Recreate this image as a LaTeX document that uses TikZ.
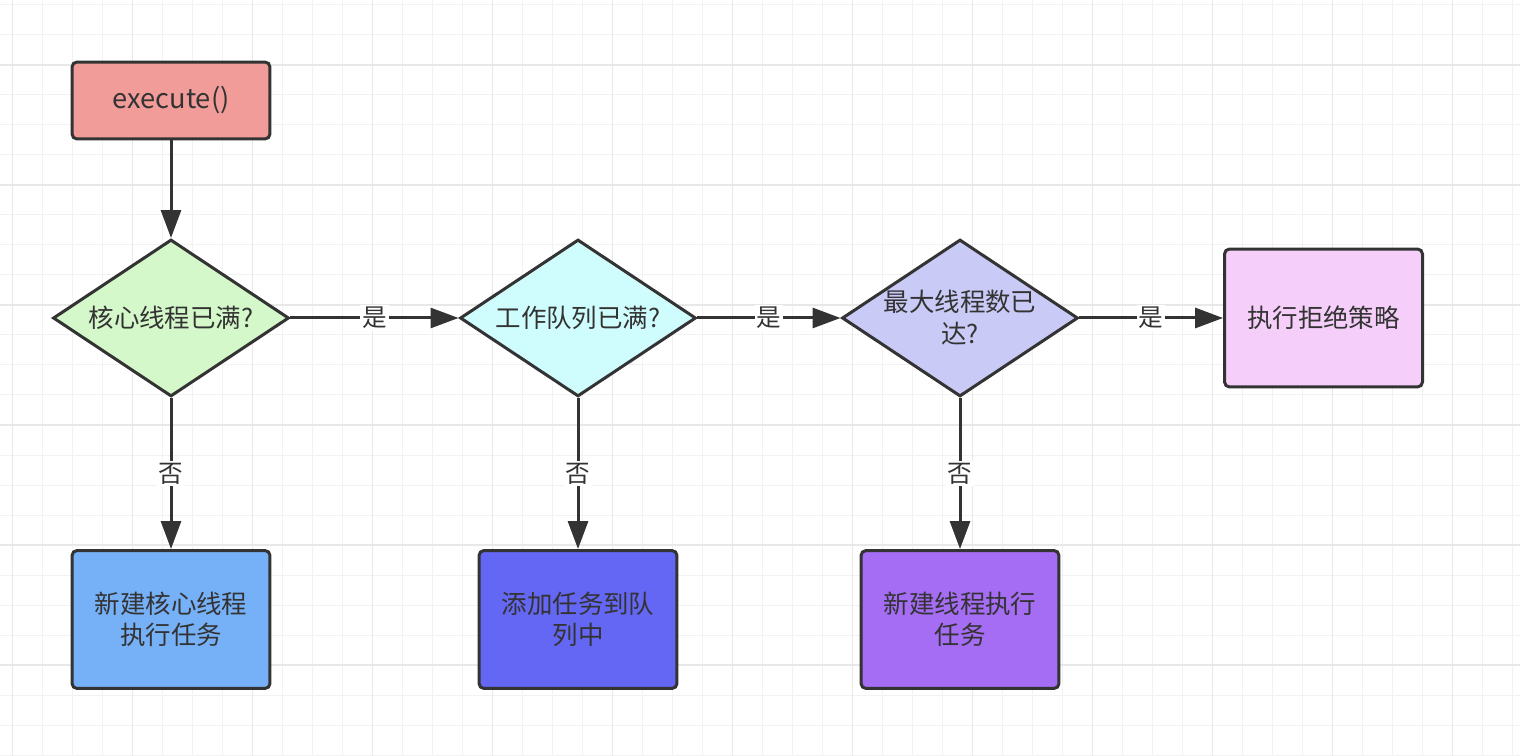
\documentclass[tikz,border=0pt]{standalone}
\usepackage{fontspec}
\setmainfont{Noto Sans CJK SC}
\usetikzlibrary{arrows.meta, shapes.geometric}

\definecolor{edgec}{HTML}{333333}
\definecolor{textc}{HTML}{333333}
\definecolor{gridminor}{HTML}{F2F2F2}
\definecolor{gridmajor}{HTML}{E8E8E8}
\definecolor{execc}{HTML}{F19C99}
\definecolor{corefull}{HTML}{D4F8C9}
\definecolor{queuefull}{HTML}{CFFCFC}
\definecolor{maxfull}{HTML}{C9CAF6}
\definecolor{rejectc}{HTML}{F5CFF9}
\definecolor{newcore}{HTML}{76B1F8}
\definecolor{addqueue}{HTML}{6467F3}
\definecolor{newthread}{HTML}{A56CF4}

\begin{document}
\begin{tikzpicture}[
    x=0.02cm, y=-0.02cm,
    box/.style={rectangle, rounded corners=0.1cm, draw=edgec, line width=0.06cm, minimum width=3.96cm, minimum height=2.76cm, inner sep=0pt, align=center, text=textc, font=\fontsize{14.5pt}{17.8pt}\selectfont},
    decision/.style={diamond, aspect=1.5, draw=edgec, line width=0.06cm, minimum width=4.72cm, minimum height=3.14cm, inner sep=-0.15cm, align=center, text=textc, font=\fontsize{14.5pt}{18.2pt}\selectfont},
    arrow/.style={-{Triangle[length=0.56cm, width=0.4cm]}, line width=0.06cm, draw=edgec},
    lbl/.style={fill=white, inner sep=1pt, text=textc, font=\fontsize{14pt}{16pt}\selectfont}
]
\useasboundingbox (0,0) rectangle (1520,756);
\fill[white] (0,0) rectangle (1520,756);
\foreach \gx in {0,...,50} \draw[gridminor, line width=0.02cm] (12.7+30*\gx,0) -- (12.7+30*\gx,756);
\foreach \gy in {0,...,25} \draw[gridminor, line width=0.02cm] (0,5+30*\gy) -- (1520,5+30*\gy);
\foreach \gx in {0,...,12} \draw[gridmajor, line width=0.026cm] (12.7+120*\gx,0) -- (12.7+120*\gx,756);
\foreach \gy in {0,...,5} \draw[gridmajor, line width=0.026cm] (0,65+120*\gy) -- (1520,65+120*\gy);

\node[box, fill=execc, minimum height=1.54cm, font=\fontsize{15.5pt}{18pt}\selectfont] (exec) at (171,100.5) {execute()};
\node[decision, fill=corefull] (core) at (171,318) {核心线程已满?};
\node[decision, fill=queuefull] (queue) at (578,318) {工作队列已满?};
\node[decision, fill=maxfull] (max) at (960,318) {最大线程数已\\达?};
\node[box, fill=rejectc] (reject) at (1323.5,318) {执行拒绝策略};
\node[box, fill=newcore] (newcore) at (171,619.5) {新建核心线程\\执行任务};
\node[box, fill=addqueue] (addq) at (578,619.5) {添加任务到队\\列中};
\node[box, fill=newthread] (newth) at (960,619.5) {新建线程执行\\任务};

\draw[arrow] (exec) -- (core);
\draw[arrow] (core) -- node[lbl] {是} (queue);
\draw[arrow] (queue) -- node[lbl] {是} (max);
\draw[arrow] (max) -- node[lbl] {是} (reject);
\draw[arrow] (core) -- node[lbl] {否} (newcore);
\draw[arrow] (queue) -- node[lbl] {否} (addq);
\draw[arrow] (max) -- node[lbl] {否} (newth);
\end{tikzpicture}
\end{document}
